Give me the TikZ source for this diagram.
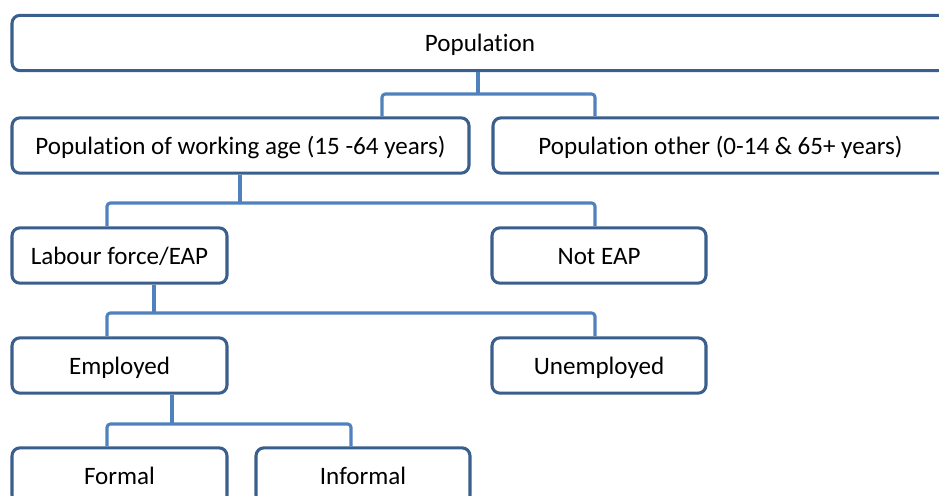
\documentclass[tikz,border=0pt]{standalone}
\usepackage{fontspec}
\setmainfont{Carlito}[Ligatures={NoCommon}]
\definecolor{boxblue}{HTML}{3A5F8D}
\definecolor{lineblue}{HTML}{4F81BD}
\begin{document}
\begin{tikzpicture}[x=0.75pt,y=-0.75pt,
  box/.style={draw=boxblue, line width=2.3pt, rounded corners=6pt, fill=white, inner sep=0pt,
    minimum height=41.5pt, text height=13.8pt, text depth=0.8pt,
    font=\fontsize{18.8}{22}\selectfont, text=black},
  conn/.style={draw=lineblue, line width=2.3pt, rounded corners=2.5pt}]
\useasboundingbox (0,0) rectangle (939,496);
% boxes
\node[box, minimum width=702pt] (pop) at (480,43) {Population};
\node[box, minimum width=342.75pt] (wa) at (240.5,145.5) {Population of working age (15 -64 years)};
\node[box, minimum width=341.25pt] (oth) at (720.5,145.5) {Population other (0-14 \& 65+ years)};
\node[box, minimum width=161.25pt] (lab) at (119.5,255.5) {Labour force/EAP};
\node[box, minimum width=160.5pt] (nea) at (599,255.5) {Not EAP};
\node[box, minimum width=161.25pt] (emp) at (119.5,365.5) {Employed};
\node[box, minimum width=160.5pt] (une) at (599,365.5) {Unemployed};
\node[box, minimum width=161.25pt] (for) at (119.5,475.5) {Formal};
\node[box, minimum width=160.5pt] (inf) at (363,475.5) {Informal};
% junction coordinates
\coordinate (j1) at (478,94);
\coordinate (j2) at (240,203);
\coordinate (j3) at (154,313);
\coordinate (j4) at (172,424);
\coordinate (xa) at (382,0);
\coordinate (xb) at (595,0);
\coordinate (xc) at (107,0);
\coordinate (xd) at (351,0);
% connectors
\draw[conn] (pop.south -| j1) -- (j1);
\draw[conn] (wa.north -| xa) |- (j1) -| (oth.north -| xb);
\draw[conn] (wa.south -| j2) -- (j2);
\draw[conn] (lab.north -| xc) |- (j2) -| (nea.north -| xb);
\draw[conn] (lab.south -| j3) -- (j3);
\draw[conn] (emp.north -| xc) |- (j3) -| (une.north -| xb);
\draw[conn] (emp.south -| j4) -- (j4);
\draw[conn] (for.north -| xc) |- (j4) -| (inf.north -| xd);
\end{tikzpicture}
\end{document}
